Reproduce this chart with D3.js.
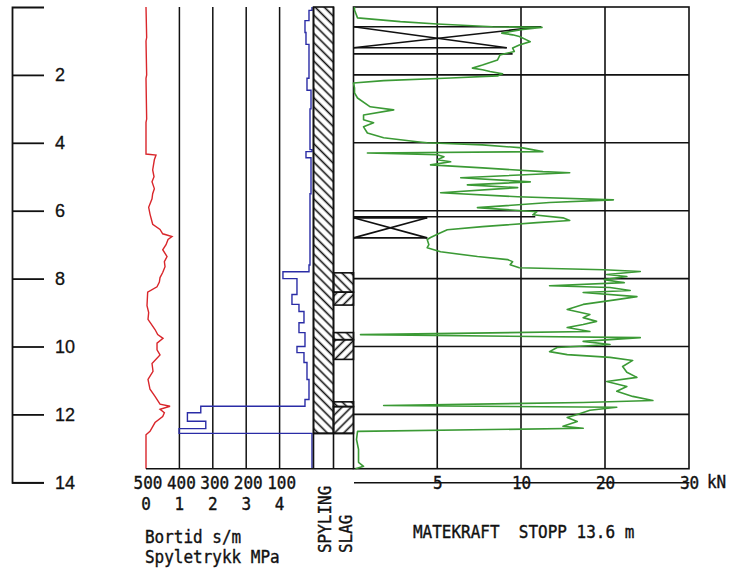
<!DOCTYPE html>
<html lang="no">
<head>
<meta charset="utf-8">
<title>Totalsondering</title>
<script src="https://d3js.org/d3.v7.min.js"></script>
<style>
  body { margin: 0; background: #fff; }
  .mono { font-family: "DejaVu Sans Mono", monospace; font-size: 16px; fill: #111; stroke: #111; stroke-width: 0.35px; white-space: pre; }
  .depth text { font-family: "Liberation Sans", Arial, sans-serif; font-size: 18px; fill: #111; stroke: #111; stroke-width: 0.3px; }
</style>
</head>
<body>
<svg id="chart" width="734" height="574"></svg>
<script>
// depth ticks (m) and bottom scale labels
const depthTicks = [2, 4, 6, 8, 10, 12, 14];
const bortidTicks = [500, 400, 300, 200, 100];
const trykkTicks = [0, 1, 2, 3, 4];
const kraftTicks = [5, 10, 20, 30];
const stopDepth = 13.6;

// Spyletrykk MPa (red) : [depth, value]
const trykk = [
  [0, 0], [0.9, 0.02], [1.0, 0], [2.0, 0.02], [2.1, 0], [3.3, 0.02], [3.4, 0], [4.33, 0],
  [4.36, 0.3], [4.5, 0.25], [4.8, 0.2], [5.0, 0.24], [5.15, 0.18], [5.35, 0.25], [5.5, 0.2],
  [5.65, 0.18], [5.9, 0.08], [6.1, 0.12], [6.4, 0.2], [6.55, 0.42], [6.68, 0.5], [6.76, 0.78],
  [6.85, 0.66], [7.0, 0.6], [7.15, 0.5], [7.35, 0.63], [7.5, 0.55], [7.65, 0.57], [7.82, 0.5],
  [7.97, 0.42], [8.1, 0.4], [8.24, 0.33], [8.4, 0.05], [8.8, 0.03], [9.0, 0.08], [9.2, 0.06],
  [9.5, 0.27], [9.65, 0.35], [9.76, 0.51], [9.9, 0.33], [10.1, 0.33], [10.25, 0.42], [10.5, 0.18],
  [10.73, 0.21], [10.97, 0.06], [11.26, 0.12], [11.47, 0.27], [11.7, 0.42], [11.76, 0.72],
  [11.85, 0.42], [11.95, 0.55], [12.06, 0.5], [12.24, 0.27], [12.5, 0.12], [12.6, 0], [13.6, 0]
];

// Bortid s/m (blue), step values : [depth where value starts, value]
const bortid = [
  [0, 0], [0.1, 9], [0.4, 21], [0.75, 18], [1.1, 9], [2.1, 15], [2.45, 3], [3.0, 6], [4.2, 0],
  [4.26, 18], [4.44, 3], [5.5, 6], [7.6, 9], [7.8, 87], [8.0, 45], [8.47, 60], [8.76, 39],
  [8.97, 24], [9.3, 39], [9.59, 21], [10.0, 45], [10.18, 24], [10.47, 15], [10.97, 9],
  [11.56, 21], [11.76, 333], [11.95, 373], [12.2, 318], [12.42, 398], [12.56, 0], [13.6, 0]
];

// Matekraft kN (green) : [depth, value]
const matekraft = [
  [0, 0.06], [0.09, 0.06], [0.32, 0.24], [0.43, 2.8], [0.5, 5.0], [0.58, 8.3], [0.6, 12.5],
  [0.66, 10.2], [0.77, 8.85], [0.82, 9.5], [0.87, 9.9], [1.02, 11.1], [1.12, 9.9], [1.21, 9.5],
  [1.31, 9.6], [1.41, 8.75], [1.56, 8.6], [1.71, 7.7], [1.8, 7.1], [1.85, 7.7], [1.9, 8.15],
  [1.97, 8.9], [2.03, 8.6], [2.09, 5.8], [2.17, 1.8], [2.24, 0], [2.38, 0.06], [2.53, 0.06],
  [2.68, 0.24], [2.94, 1.0], [3.03, 2.4], [3.18, 0.6], [3.32, 0.6], [3.41, 1.2], [3.53, 0.6],
  [3.71, 0.83], [3.85, 1.8], [3.97, 3.8], [4.0, 4.4], [4.06, 7.7], [4.15, 10.2], [4.26, 12.6],
  [4.3, 0.83], [4.35, 5.0], [4.41, 5.4], [4.5, 5.0], [4.56, 5.8], [4.65, 4.6], [4.74, 7.7],
  [4.85, 12.6], [4.88, 15.8], [5.03, 6.4], [5.15, 11.1], [5.24, 6.8], [5.32, 9.8], [5.47, 5.2],
  [5.59, 9.8], [5.68, 21.0], [5.76, 13.4], [5.91, 7.4], [6.03, 11.9], [6.12, 11.4], [6.21, 15.0],
  [6.29, 15.8], [6.35, 11.9], [6.47, 7.7], [6.56, 5.6], [6.65, 5.2], [6.79, 4.6], [6.85, 4.4],
  [7.0, 4.5], [7.09, 4.4], [7.21, 5.2], [7.35, 7.4], [7.44, 9.2], [7.5, 9.5], [7.59, 9.35],
  [7.68, 9.9], [7.74, 19.9], [7.79, 24.2], [7.88, 20.2], [7.94, 22.6], [8.03, 19.9], [8.12, 22.3],
  [8.21, 13.4], [8.26, 20.6], [8.35, 23.0], [8.41, 17.4], [8.53, 23.8], [8.62, 21.4], [8.76, 17.4],
  [8.91, 15.5], [9.06, 18.2], [9.15, 17.4], [9.26, 19.0], [9.35, 17.4], [9.44, 15.5], [9.56, 18.2],
  [9.65, 0.42], [9.74, 24.2], [9.85, 17.4], [9.94, 20.6], [10.03, 14.3], [10.15, 13.4],
  [10.24, 15.5], [10.32, 20.6], [10.41, 23.3], [10.59, 22.1], [10.76, 22.6], [10.91, 23.8],
  [11.03, 20.2], [11.18, 22.6], [11.32, 21.4], [11.47, 23.3], [11.59, 25.7], [11.65, 17.4],
  [11.74, 1.8], [11.79, 21.4], [11.88, 18.2], [12.0, 16.7], [12.09, 15.5], [12.21, 16.7],
  [12.35, 15.0], [12.41, 17.4], [12.5, 0.24], [12.74, 0.18], [13.03, 0.3], [13.41, 0.3],
  [13.53, 0.6], [13.6, 0.12]
];

// hatched columns: [top depth, bottom depth]
const spyling = [[0, 12.56]];
const slag = [[7.83, 8.4], [8.4, 8.78], [9.59, 9.8], [9.8, 10.38], [11.63, 11.77], [11.77, 12.56]];

// boxes with cross in the Matekraft panel: [top, value at top, bottom, value at bottom]
const crossBoxes = [[0.58, 12.4, 1.2, 9.15], [6.21, 4.4, 6.8, 4.4]];
const markLines = [[1.38, 9.5], [6.18, 11.7]];

const svg = d3.select("#chart");

const y = d3.scaleLinear().domain([0, 14]).range([7, 482.3]);
const xTrykk = d3.scaleLinear().domain([0, 5]).range([146, 313]);
const xBortid = d3.scaleLinear().domain([0, 500]).range([313, 146]);
const xKraft = d3.scaleLinear().domain([0, 10, 30]).range([353.5, 521, 689]);

const colL = 313.5, colM = 333.5, colR = 353.5;
const yStop = y(stopDepth);

// hatch patterns
const defs = svg.append("defs");
function hatch(id, angle) {
  defs.append("pattern")
    .attr("id", id)
    .attr("patternUnits", "userSpaceOnUse")
    .attr("width", 6.5).attr("height", 6.5)
    .attr("patternTransform", "rotate(" + angle + ")")
    .append("line")
    .attr("x1", 3.25).attr("y1", -1).attr("x2", 3.25).attr("y2", 7.5)
    .attr("stroke", "#111").attr("stroke-width", 1.6);
}
hatch("hatchDown", -45);
hatch("hatchUp", 45);

// depth axis
const depthAxis = d3.axisRight(y)
  .tickValues(depthTicks)
  .tickSize(32)
  .tickSizeOuter(32)
  .tickPadding(11)
  .tickFormat(d3.format("d"));
svg.append("g")
  .attr("class", "depth")
  .attr("transform", "translate(12,0)")
  .call(depthAxis)
  .call(g => g.selectAll("path, line").attr("stroke", "#111").attr("stroke-width", 1.8));

// left panel grid lines
svg.append("g")
  .selectAll("line")
  .data(bortidTicks.slice(1))
  .join("line")
  .attr("x1", d => xBortid(d)).attr("x2", d => xBortid(d))
  .attr("y1", y(0)).attr("y2", yStop)
  .attr("stroke", "#111").attr("stroke-width", 1.5);

// red and blue curves
svg.append("path")
  .datum(trykk)
  .attr("fill", "none")
  .attr("stroke", "#d9262b")
  .attr("stroke-width", 1.4)
  .attr("d", d3.line().x(d => xTrykk(d[1])).y(d => y(d[0])));

svg.append("path")
  .datum(bortid)
  .attr("fill", "none")
  .attr("stroke", "#2a2ca6")
  .attr("stroke-width", 1.4)
  .attr("d", d3.line().curve(d3.curveStepBefore).x(d => xBortid(d[1]) - 1).y(d => y(d[0])));

// SPYLING / SLAG columns
svg.append("g")
  .selectAll("rect")
  .data(spyling)
  .join("rect")
  .attr("x", colL).attr("width", colM - colL)
  .attr("y", d => y(d[0])).attr("height", d => y(d[1]) - y(d[0]))
  .attr("fill", "url(#hatchDown)")
  .attr("stroke", "#111").attr("stroke-width", 1.6);

svg.append("g")
  .selectAll("rect")
  .data(slag)
  .join("rect")
  .attr("x", colM).attr("width", colR - colM)
  .attr("y", d => y(d[0])).attr("height", d => y(d[1]) - y(d[0]))
  .attr("fill", (d, i) => i % 2 ? "url(#hatchUp)" : "url(#hatchDown)")
  .attr("stroke", "#111").attr("stroke-width", 1.6);

const frame = svg.append("g").attr("stroke", "#111").attr("stroke-width", 1.6).attr("fill", "none");
[colL, colM].forEach(x => frame.append("line").attr("x1", x).attr("x2", x).attr("y1", y(0)).attr("y2", yStop));
frame.append("line").attr("x1", colL).attr("x2", colR).attr("y1", y(spyling[0][1])).attr("y2", y(spyling[0][1]));
frame.append("line").attr("x1", xTrykk(0)).attr("x2", colR).attr("y1", yStop).attr("y2", yStop);

// Matekraft panel
frame.append("rect")
  .attr("x", xKraft(0)).attr("y", y(0))
  .attr("width", xKraft(30) - xKraft(0)).attr("height", yStop - y(0));
frame.selectAll(".vg")
  .data(kraftTicks.slice(0, 3))
  .join("line")
  .attr("class", "vg")
  .attr("x1", d => xKraft(d)).attr("x2", d => xKraft(d))
  .attr("y1", y(0)).attr("y2", yStop);
frame.selectAll(".hg")
  .data(depthTicks.filter(d => d < stopDepth))
  .join("line")
  .attr("class", "hg")
  .attr("x1", xKraft(0)).attr("x2", xKraft(30))
  .attr("y1", d => y(d)).attr("y2", d => y(d));

// crossed boxes
const boxG = svg.append("g").attr("stroke", "#111").attr("stroke-width", 1.6);
crossBoxes.forEach(b => {
  const x0 = xKraft(0);
  boxG.append("line").attr("x1", x0).attr("x2", xKraft(b[1])).attr("y1", y(b[0])).attr("y2", y(b[0]));
  boxG.append("line").attr("x1", x0).attr("x2", xKraft(b[3])).attr("y1", y(b[2])).attr("y2", y(b[2]));
  boxG.append("line").attr("x1", x0).attr("x2", xKraft(b[3])).attr("y1", y(b[0])).attr("y2", y(b[2]));
  boxG.append("line").attr("x1", x0).attr("x2", xKraft(b[1])).attr("y1", y(b[2])).attr("y2", y(b[0]));
});
boxG.selectAll(".ml")
  .data(markLines)
  .join("line")
  .attr("x1", xKraft(0)).attr("x2", d => xKraft(d[1]))
  .attr("y1", d => y(d[0])).attr("y2", d => y(d[0]));

svg.append("path")
  .datum(matekraft)
  .attr("fill", "none")
  .attr("stroke", "#3b9a35")
  .attr("stroke-width", 1.6)
  .attr("stroke-linejoin", "round")
  .attr("d", d3.line().x(d => xKraft(d[1])).y(d => y(d[0])));

// kN axis (line runs through the labels)
const kraftAxis = d3.axisBottom(xKraft).tickValues(kraftTicks).tickSize(0).tickSizeOuter(0);
svg.append("g")
  .attr("transform", "translate(0," + y(14) + ")")
  .call(kraftAxis)
  .call(g => g.select(".domain").attr("stroke", "#111").attr("stroke-width", 1.6))
  .call(g => g.selectAll("text").attr("class", "mono").attr("y", 0).attr("dy", "0.38em")
    .attr("transform", "scale(1,1.12)"));

// text helper: slightly tall plotter lettering
function label(x, yy, str, anchor, rot) {
  const g = svg.append("g").attr("transform", "translate(" + x + "," + yy + ")" + (rot ? " rotate(" + rot + ")" : ""));
  g.append("text")
    .attr("class", "mono")
    .attr("text-anchor", anchor || "start")
    .attr("transform", "scale(1,1.12)")
    .text(str);
}

bortidTicks.forEach(d => label(xBortid(d) + 2, 489, String(d), "middle"));
trykkTicks.forEach(d => label(xTrykk(d), 510, String(d), "middle"));
label(707, 488, "kN", "start");
label(145, 543, "Bortid s/m");
label(145, 563, "Spyletrykk MPa");
label(331, 553, "SPYLING", "start", -90);
label(352, 553, "SLAG", "start", -90);
label(413, 538, "MATEKRAFT  STOPP 13.6 m");
</script>
</body>
</html>
